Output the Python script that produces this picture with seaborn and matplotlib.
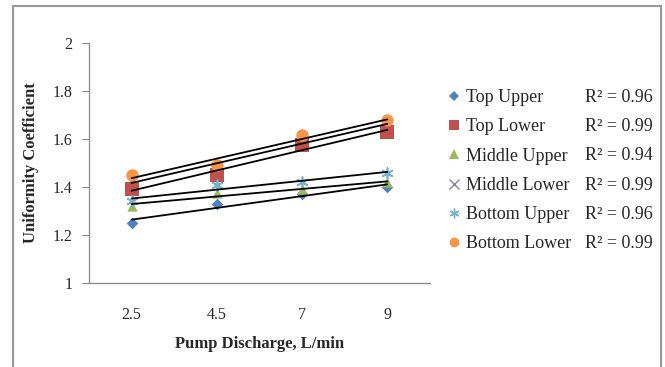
import numpy as np
import pandas as pd
import matplotlib
matplotlib.use("Agg")
import matplotlib.pyplot as plt
import seaborn as sns
from matplotlib.patches import Rectangle
from matplotlib.lines import Line2D

categories = ["2.5", "4.5", "7", "9"]
series_names = ["Top Upper", "Top Lower", "Middle Upper", "Middle Lower", "Bottom Upper", "Bottom Lower"]
top_upper = [1.25, 1.33, 1.37, 1.40]
top_lower = [1.39, 1.45, 1.575, 1.63]
middle_upper = [1.32, 1.375, 1.39, 1.42]
middle_lower = [1.43, 1.47, 1.60, 1.66]
bottom_upper = [1.34, 1.41, 1.42, 1.46]
bottom_lower = [1.45, 1.49, 1.617, 1.68]
r2_values = ["0.96", "0.99", "0.94", "0.99", "0.96", "0.99"]

all_values = [top_upper, top_lower, middle_upper, middle_lower, bottom_upper, bottom_lower]
colors = ["#4F81BD", "#C0504D", "#9BBB59", "#8A7FA8", "#6FB3D0", "#F79646"]
markers = ["D", "s", "^", "x", (6, 2, 0), "o"]
msizes = [35, 90, 55, 45, 60, 80]
zorders = [3, 3.2, 3.3, 2.9, 3.4, 3.5]

sns.set_theme(style="white")
plt.rcParams["font.family"] = ["Liberation Serif", "DejaVu Serif"]

fig = plt.figure(figsize=(6.65, 3.67), dpi=100)
ax = fig.add_axes([89 / 665, 1 - 283 / 367, (430 - 89) / 665, (283 - 43) / 367])

pos = np.arange(len(categories))
rows = []
for name, vals in zip(series_names, all_values):
    for p, v in zip(pos, vals):
        rows.append({"series": name, "pos": p, "value": v})
df = pd.DataFrame(rows)

handles = []
for name, col, mk, ms, zo in zip(series_names, colors, markers, msizes, zorders):
    d = df[df["series"] == name]
    lined = mk in ("x", (6, 2, 0))
    if lined:
        sns.scatterplot(data=d, x="pos", y="value", ax=ax, color=col, marker=mk, s=ms,
                        linewidth=1.2, zorder=zo, legend=False)
    else:
        sns.scatterplot(data=d, x="pos", y="value", ax=ax, color=col, marker=mk, s=ms,
                        linewidth=0, zorder=zo, legend=False)
    handles.append(Line2D([], [], linestyle="none", marker=mk, color=col,
                          markersize=7 if mk != "D" else 5.5,
                          markeredgewidth=1.0 if lined else 0))

for name in series_names:
    d = df[df["series"] == name]
    sns.regplot(data=d, x="pos", y="value", ax=ax, scatter=False, ci=None, truncate=True,
                line_kws=dict(color="black", lw=1.3, zorder=4))

ax.set_xlim(-0.5, 3.5)
ax.set_ylim(1, 2)
ax.set_yticks([1, 1.2, 1.4, 1.6, 1.8, 2])
ax.set_yticklabels(["1", "1.2", "1.4", "1.6", "1.8", "2"], fontsize=11.5)
ax.set_xticks(pos)
ax.set_xticklabels(categories, fontsize=11.5)
ax.set_xticks(np.arange(-0.5, 4, 1), minor=True)
ax.tick_params(axis="x", which="major", length=0, pad=17)
ax.tick_params(axis="x", which="minor", length=5, width=0.8, color="#888888", direction="inout")
ax.tick_params(axis="y", length=5, width=0.8, color="#888888", direction="out", left=True, pad=7)
for s in ["top", "right"]:
    ax.spines[s].set_visible(False)
for s in ["left", "bottom"]:
    ax.spines[s].set_color("#888888")
    ax.spines[s].set_linewidth(0.9)
ax.set_xlabel("Pump Discharge, L/min", fontsize=12, fontweight="bold", labelpad=10)
ax.set_ylabel("Uniformity Coefficient", fontsize=12, fontweight="bold", labelpad=10)

leg = fig.legend(handles, series_names, loc="upper left", bbox_to_anchor=(448 / 665, 1 - 89 / 367),
                 frameon=False, fontsize=13, handlelength=0.7, handletextpad=0.3,
                 labelspacing=0.68, borderaxespad=0, borderpad=0)
for i, r2 in enumerate(r2_values):
    y = 97 + i * 29.4
    fig.text(585 / 665, 1 - y / 367, f"R² = {r2}", fontsize=13, va="center", ha="left")

fig.patches.append(Rectangle((13 / 665, -0.02), (661 - 13) / 665, 1.02 - 6 / 367,
                             transform=fig.transFigure, fill=False, edgecolor="#999999", lw=1.5))

fig.savefig("out.png", dpi=100)
